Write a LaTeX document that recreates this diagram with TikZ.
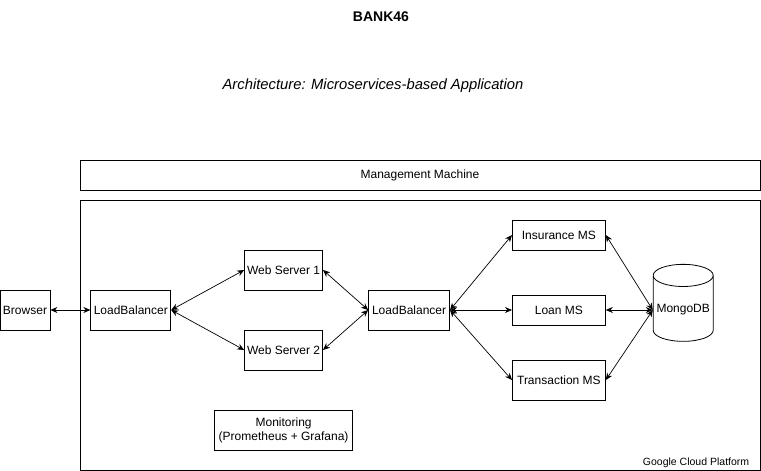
\documentclass[tikz,border=0pt]{standalone}
\usepackage{fontspec}
\setmainfont{Liberation Sans}
\setsansfont{Liberation Sans}
\usetikzlibrary{positioning,shapes.geometric,arrows.meta}
\tikzset{
	box/.style={draw, line width=0.8pt, minimum width=#1, minimum height=40pt, inner sep=1pt, font=\fontsize{12}{14}\selectfont},
	box/.default=80pt,
	link/.style={<->, >={Stealth[length=7pt,width=6pt]}, line width=0.7pt},
}

\begin{document}
\begin{tikzpicture}[x=1pt,y=-1pt]
	\useasboundingbox (0,0) rectangle (761,471);

	\node[font=\bfseries\fontsize{14}{16}\selectfont] (title) at (381,17) {BANK46};
	\node[font=\itshape\fontsize{14.8}{17}\selectfont] (subtitle) at (373,86) {Architecture: Microservices-based Application};

	\node[box=680pt, minimum height=30pt] (mgmt) at (420,175) {Management Machine};
	\node[box=680pt, minimum height=270pt] (gcp) at (420,335) {};
	\node[above left=3pt and 11pt of gcp.south east, inner sep=0pt, font=\fontsize{10.5}{12}\selectfont] (gcplabel) {Google Cloud Platform};

	\node[box=50pt] (browser) at (25,310) {Browser};
	\node[box, right=40pt of browser] (lb1) {LoadBalancer};
	\node[box=78pt, right=73pt of lb1, yshift=40pt] (ws1) {Web Server 1};
	\node[box=78pt, right=73pt of lb1, yshift=-40pt] (ws2) {Web Server 2};
	\node[box=81pt, right=197pt of lb1] (lb2) {LoadBalancer};
	\node[box=93pt, minimum height=30pt, right=62pt of lb2, yshift=75pt] (ins) {Insurance MS};
	\node[box=93pt, minimum height=30pt, right=62pt of lb2] (loan) {Loan MS};
	\node[box=93pt, right=62pt of lb2, yshift=-70pt] (trans) {Transaction MS};
	\node[box=60pt, cylinder, shape border rotate=90, aspect=0.4, minimum height=77pt, right=47pt of loan] (mongo) {MongoDB};
	\node[box=138pt, align=center, below=40pt of ws2] (mon) {Monitoring\\(Prometheus + Grafana)};

	\path[link]
		(browser) edge (lb1)
		(lb1.east) edge (ws1.west)
		(lb1.east) edge (ws2.west)
		(ws1.east) edge (lb2.west)
		(ws2.east) edge (lb2.west)
		(lb2.east) edge (ins.west)
		(lb2.east) edge (loan.west)
		(lb2.east) edge (trans.west)
		(ins.east) edge (mongo.west)
		(loan.east) edge (mongo.west)
		(trans.east) edge (mongo.west);
\end{tikzpicture}
\end{document}
